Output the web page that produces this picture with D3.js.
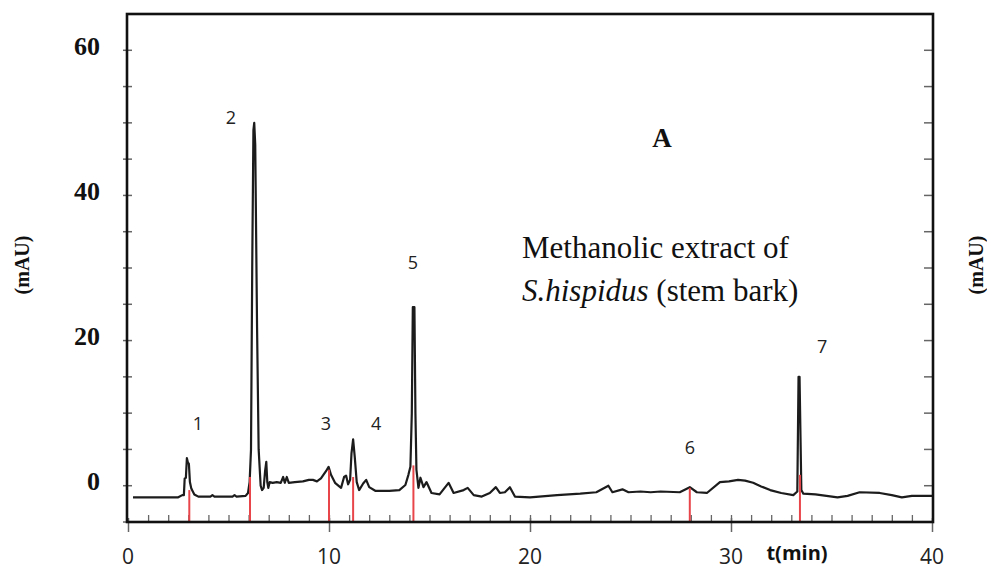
<!DOCTYPE html>
<html>
<head>
<meta charset="utf-8">
<script src="https://cdn.jsdelivr.net/npm/d3@7"></script>
<style>
  html, body { margin: 0; padding: 0; background: #fff; }
  svg { display: block; }
  .ylab { font-family: "Liberation Serif", "DejaVu Serif", serif; font-weight: bold; }
  .sans { font-family: "Open Sans", "Liberation Sans", sans-serif; }
  .serif { font-family: "Liberation Serif", "DejaVu Serif", serif; }
</style>
</head>
<body>
<div id="chart"></div>
<script>
// ── Data ───────────────────────────────────────────────────────────────────

// retention time (min) and absorbance (mAU) of the trace
const traceTime = [
  0.25, 2.5, 2.7, 2.78, 2.82, 2.88, 2.93, 2.98, 3.03, 3.08, 3.15, 3.3, 3.5,
  4.1, 4.2, 4.3, 5.2, 5.3, 5.4, 5.85, 5.97, 6.05, 6.12, 6.18, 6.24, 6.28, 6.33,
  6.42, 6.5, 6.6, 6.67, 6.75, 6.82, 6.88, 6.93, 6.98, 7.05, 7.2, 7.4, 7.6, 7.72,
  7.8, 7.9, 8.0, 8.3, 8.7, 9.0, 9.2, 9.4, 9.6, 9.85, 9.98, 10.1, 10.3, 10.6,
  10.75, 10.85, 10.95, 11.05, 11.12, 11.2, 11.28, 11.38, 11.5, 11.7, 11.85, 12.0,
  12.3, 13.0, 13.5, 13.8, 13.95, 14.05, 14.12, 14.17, 14.25, 14.3, 14.35, 14.45,
  14.55, 14.7, 14.85, 15.1, 15.5, 15.95, 16.2, 16.7, 16.9, 17.2, 17.6, 18.0,
  18.3, 18.5, 18.75, 19.0, 19.25, 20.0, 21.35, 22.5, 23.3, 23.9, 24.1, 24.6,
  24.9, 25.5, 26.0, 26.5, 27.45, 27.95, 28.3, 28.8, 29.45, 29.9, 30.35, 30.7,
  31.1, 31.5, 31.95, 32.5, 33.1, 33.3, 33.36, 33.41, 33.5, 33.6, 34.2, 35.3,
  35.8, 36.4, 37.4, 38.0, 38.5, 39.0, 40.0
];
const traceValue = [
  -1.6, -1.6, -1.3, -1.3, 1.0, 1.1, 3.8, 3.2, 3.0, 0.5, -0.4, -1.2, -1.5,
  -1.5, -1.3, -1.5, -1.5, -1.3, -1.5, -1.4, -1.0, 0.5, 5, 30, 49, 50, 47,
  22, 5, 0, -0.6, -0.3, 2.0, 3.3, 0.5, -0.3, 0.5, 0.4, 0.5, 0.4, 1.2,
  0.4, 1.2, 0.4, 0.5, 0.6, 0.8, 0.8, 0.6, 1.0, 2.0, 2.6, 1.5, 0.4, -0.3,
  1.2, 1.4, 0.2, 0.8, 4.5, 6.4, 4.0, 0.5, -0.6, 0.3, 0.8, -0.2,
  -0.7, -0.7, -0.6, 0.1, 1.5, 2.6, 10, 24.6, 24.6, 10, 2.2, -0.3,
  1.1, -0.2, 0.5, -1.0, -1.2, 0.4, -1.0, -0.6, -0.3, -1.3, -1.5, -1.0,
  -0.2, -1.0, -0.9, -0.2, -1.5, -1.6, -1.3, -1.1, -0.9, 0.0, -0.9, -0.5,
  -0.9, -0.8, -0.9, -0.8, -0.9, -0.2, -0.9, -1.0, 0.5, 0.6, 0.8, 0.7,
  0.4, -0.1, -0.6, -1.0, -1.3, -0.8, 15.0, 15.0, -0.6, -1.1, -1.2, -1.6,
  -1.4, -0.9, -1.0, -1.3, -1.6, -1.4, -1.4
];

// integration markers (red) : time and the height they reach
const markerTime = [3.05, 6.07, 10.0, 11.2, 14.2, 27.95, 33.43];
const markerTop = [-0.6, 1.2, 2.2, 1.2, 2.8, -0.3, 1.5];

// peak numbers and where they sit
const peakNames = ['1', '2', '3', '4', '5', '6', '7'];
const peakLabelTime = [3.48, 5.12, 9.85, 12.34, 14.18, 27.96, 34.53];
const peakLabelValue = [8.6, 50.8, 8.6, 8.6, 30.8, 5.3, 19.3];

const xTicks = [0, 10, 20, 30, 40];
const yTicks = [0, 20, 40, 60];

// ── Layout ─────────────────────────────────────────────────────────────────

const W = 987, H = 569;
const plotLeft = 127, plotRight = 933, plotTop = 14, plotBottom = 522;

const svg = d3.select('#chart').append('svg')
  .attr('width', W).attr('height', H);

const x = d3.scaleLinear().domain([0, 40]).range([plotLeft + 1, plotRight - 1]);
const y = d3.scaleLinear().domain([-5, 65]).range([plotBottom, plotTop]);

// ── Ticks ──────────────────────────────────────────────────────────────────

const tickColor = '#666';

// left axis ticks: short, crossing the spine
const yMinor = d3.range(-5, 61, 5);
svg.append('g').selectAll('line').data(yMinor).join('line')
  .attr('x1', plotLeft - 4).attr('x2', plotLeft + 5)
  .attr('y1', d => y(d)).attr('y2', d => y(d))
  .attr('stroke', tickColor).attr('stroke-width', 1.5);

// right axis ticks: inside only
svg.append('g').selectAll('line').data(yMinor).join('line')
  .attr('x1', plotRight - 9).attr('x2', plotRight)
  .attr('y1', d => y(d)).attr('y2', d => y(d))
  .attr('stroke', tickColor).attr('stroke-width', 1.5);

// bottom: minor ticks every minute (inside), major every 10 (across)
const xMinorAxis = d3.axisBottom(x).tickValues(d3.range(1, 40)).tickSize(-7).tickFormat('');
svg.append('g').attr('transform', `translate(0,${plotBottom})`).call(xMinorAxis)
  .call(g => g.select('.domain').remove())
  .call(g => g.selectAll('line').attr('stroke', tickColor).attr('stroke-width', 1.3));

const xMajorAxis = d3.axisBottom(x).tickValues(xTicks).tickSize(10).tickFormat('');
svg.append('g').attr('transform', `translate(0,${plotBottom})`).call(xMajorAxis)
  .call(g => g.select('.domain').remove())
  .call(g => g.selectAll('line').attr('y1', -4).attr('stroke', tickColor).attr('stroke-width', 1.5));

// ── Trace ──────────────────────────────────────────────────────────────────

const trace = traceTime.map((t, i) => [t, traceValue[i]]);
svg.append('path')
  .datum(trace)
  .attr('d', d3.line().x(d => x(d[0])).y(d => y(d[1])))
  .attr('fill', 'none')
  .attr('stroke', '#1c1c1c')
  .attr('stroke-width', 2.2)
  .attr('stroke-linejoin', 'round');

// red markers
svg.append('g').selectAll('line').data(markerTime).join('line')
  .attr('x1', d => x(d)).attr('x2', d => x(d))
  .attr('y1', plotBottom).attr('y2', (d, i) => y(markerTop[i]))
  .attr('stroke', '#e8454a').attr('stroke-width', 2);

// ── Frame ──────────────────────────────────────────────────────────────────

svg.append('rect')
  .attr('x', plotLeft).attr('y', plotTop)
  .attr('width', plotRight - plotLeft).attr('height', plotBottom - plotTop)
  .attr('fill', 'none').attr('stroke', '#111').attr('stroke-width', 2.6);

// ── Tick labels ────────────────────────────────────────────────────────────

svg.append('g').selectAll('text').data(yTicks).join('text')
  .attr('class', 'ylab')
  .attr('x', 100).attr('y', d => y(d) - 4)
  .attr('text-anchor', 'end').attr('dominant-baseline', 'central')
  .attr('font-size', 26).attr('fill', '#111')
  .text(d => d);

svg.append('g').selectAll('text').data(xTicks).join('text')
  .attr('class', 'sans')
  .attr('x', d => x(d)).attr('y', 564)
  .attr('text-anchor', 'middle')
  .attr('font-size', 21).attr('fill', '#222')
  .text(d => d);

svg.append('text').attr('class', 'sans')
  .attr('x', 797).attr('y', 560)
  .attr('text-anchor', 'middle')
  .attr('font-size', 20).attr('font-weight', 'bold').attr('fill', '#111')
  .text('t(min)');

// y axis titles (both sides)
[22, 976].forEach(cx => {
  svg.append('text').attr('class', 'ylab')
    .attr('transform', `translate(${cx},265) rotate(-90)`)
    .attr('text-anchor', 'middle').attr('dominant-baseline', 'central')
    .attr('font-size', 20).attr('fill', '#111')
    .text('(mAU)');
});

// ── Annotations ────────────────────────────────────────────────────────────

svg.append('g').selectAll('text').data(peakNames).join('text')
  .attr('class', 'sans')
  .attr('x', (d, i) => x(peakLabelTime[i]))
  .attr('y', (d, i) => y(peakLabelValue[i]))
  .attr('text-anchor', 'middle').attr('dominant-baseline', 'central')
  .attr('font-size', 18).attr('fill', '#222')
  .text(d => d);

svg.append('text').attr('class', 'serif')
  .attr('x', 662).attr('y', 147)
  .attr('text-anchor', 'middle')
  .attr('font-size', 27).attr('font-weight', 'bold').attr('fill', '#111')
  .text('A');

svg.append('text').attr('class', 'serif')
  .attr('x', 522).attr('y', 258)
  .attr('font-size', 31).attr('fill', '#111')
  .text('Methanolic extract of');

const line2 = svg.append('text').attr('class', 'serif')
  .attr('x', 522).attr('y', 301)
  .attr('font-size', 31).attr('fill', '#111');
line2.append('tspan').attr('font-style', 'italic').text('S.hispidus');
line2.append('tspan').text(' (stem bark)');
</script>
</body>
</html>
